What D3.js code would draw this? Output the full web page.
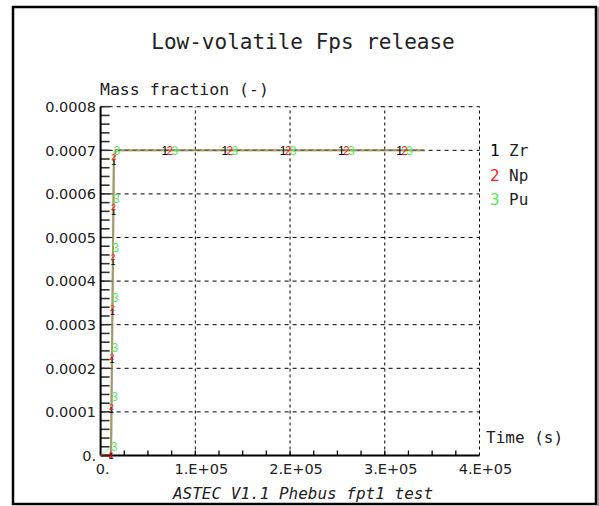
<!DOCTYPE html>
<html>
<head>
<meta charset="utf-8">
<script src="https://cdn.jsdelivr.net/npm/d3@7"></script>
<style>
  body { margin: 0; background: #fff; }
  svg { display: block; }
</style>
</head>
<body>
<svg width="599" height="506"></svg>
<script>
// time (s) and mass fractions
var time = [0, 11000, 11500, 12000, 12500, 13000, 13500, 14000, 16000, 73000, 136500, 198000, 259500, 321000, 342000];
var zr = [0, 0, 0.000104, 0.000219, 0.000329, 0.000444, 0.000558, 0.000673, 0.0007, 0.0007, 0.0007, 0.0007, 0.0007, 0.0007, 0.0007];
var np = [0, 0.000002, 0.000111, 0.000226, 0.00034, 0.000455, 0.00057, 0.000685, 0.0007, 0.0007, 0.0007, 0.0007, 0.0007, 0.0007, 0.0007];
var pu = [0, 0.00002, 0.000134, 0.000247, 0.000361, 0.000476, 0.00059, 0.0007, 0.0007, 0.0007, 0.0007, 0.0007, 0.0007, 0.0007, 0.0007];
var markerIdx = [1, 2, 3, 4, 5, 6, 7, 9, 10, 11, 12, 13];
var names = ["Zr", "Np", "Pu"];
var xTicks = [0, 100000, 200000, 300000, 400000];
var yTicks = [0, 0.0001, 0.0002, 0.0003, 0.0004, 0.0005, 0.0006, 0.0007, 0.0008];

var series = [
  {key: "1", name: names[0], values: zr, color: "#000000", opacity: 0.37, dx: -5, rx: 0},
  {key: "2", name: names[1], values: np, color: "#ff2020", opacity: 0.37, dx: 0, rx: 0},
  {key: "3", name: names[2], values: pu, color: "#55ee55", opacity: 0.34, dx: 5, rx: 3}
];

var svg = d3.select("svg");
var mono = "'DejaVu Sans Mono', monospace";
var ink = "#222";

var x = d3.scaleLinear().domain([0, 400000]).range([100.6, 479.5]);
var y = d3.scaleLinear().domain([0, 0.0008]).range([455.5, 106.7]);

// outer frame
svg.append("rect")
    .attr("x", 13).attr("y", 7).attr("width", 583).attr("height", 497)
    .attr("fill", "none").attr("stroke", "#000").attr("stroke-width", 2.5);
svg.append("line")
    .attr("x1", 598).attr("x2", 598).attr("y1", 7).attr("y2", 506)
    .attr("stroke", "#777").attr("stroke-width", 1.5);

// title
svg.append("text")
    .attr("x", 303).attr("y", 49)
    .attr("text-anchor", "middle")
    .style("font-family", mono).style("font-size", "21px")
    .attr("fill", ink)
    .text("Low-volatile Fps release");

// grid
svg.selectAll(".hgrid")
  .data(yTicks.filter(function(d) { return d > 0; }))
  .enter().append("line")
    .attr("class", "hgrid")
    .attr("x1", x(0)).attr("x2", x(400000))
    .attr("y1", function(d) { return y(d); })
    .attr("y2", function(d) { return y(d); })
    .attr("stroke", "#000").attr("stroke-width", 1)
    .attr("stroke-dasharray", "4,4");

svg.selectAll(".vgrid")
  .data(xTicks.filter(function(d) { return d > 0; }))
  .enter().append("line")
    .attr("class", "vgrid")
    .attr("y1", y(0)).attr("y2", y(0.0008))
    .attr("x1", function(d) { return x(d); })
    .attr("x2", function(d) { return x(d); })
    .attr("stroke", "#000").attr("stroke-width", 1)
    .attr("stroke-dasharray", "3,3");

// minor ticks
var yMinor = d3.range(0, 0.00080001, 0.00002);
svg.selectAll(".ymin")
  .data(yMinor)
  .enter().append("line")
    .attr("x1", x(0)).attr("x2", x(0) + 9)
    .attr("y1", function(d) { return y(d); })
    .attr("y2", function(d) { return y(d); })
    .attr("stroke", "#333").attr("stroke-width", 1.6);

var xMinor = d3.range(25000, 400000, 25000);
svg.selectAll(".xmin")
  .data(xMinor)
  .enter().append("line")
    .attr("y1", y(0)).attr("y2", y(0) - 5)
    .attr("x1", function(d) { return x(d); })
    .attr("x2", function(d) { return x(d); })
    .attr("stroke", "#000").attr("stroke-width", 1.3);

// axes lines
svg.append("line")
    .attr("x1", x(0)).attr("x2", x(0)).attr("y1", y(0)).attr("y2", y(0.0008))
    .attr("stroke", "#000").attr("stroke-width", 2);
svg.append("line")
    .attr("x1", x(0)).attr("x2", x(400000)).attr("y1", y(0)).attr("y2", y(0))
    .attr("stroke", "#000").attr("stroke-width", 2);

// tick labels
svg.selectAll(".ylab")
  .data(yTicks)
  .enter().append("text")
    .attr("x", 96)
    .attr("y", function(d) { return y(d); })
    .attr("dy", "0.36em")
    .attr("text-anchor", "end")
    .style("font-family", "'DejaVu Sans', sans-serif").style("font-size", "14.5px")
    .attr("fill", ink)
    .text(function(d) { return d === 0 ? "0." : d.toFixed(4); });

svg.selectAll(".xlab")
  .data(xTicks)
  .enter().append("text")
    .attr("x", function(d) { return x(d) + (d === 0 ? 2 : 6); })
    .attr("y", 474)
    .attr("text-anchor", "middle")
    .style("font-family", "'DejaVu Sans', sans-serif").style("font-size", "14.5px")
    .attr("fill", ink)
    .text(function(d) { return d === 0 ? "0." : (d / 100000) + ".E+05"; });

// axis titles
svg.append("text")
    .attr("x", 100).attr("y", 95)
    .style("font-family", mono).style("font-size", "16.5px")
    .attr("fill", ink)
    .text("Mass fraction (-)");
svg.append("text")
    .attr("x", 486).attr("y", 443)
    .style("font-family", mono).style("font-size", "16px")
    .attr("fill", ink)
    .text("Time (s)");
svg.append("text")
    .attr("x", 303).attr("y", 499)
    .attr("text-anchor", "middle")
    .style("font-family", mono).style("font-size", "16px").style("font-style", "italic")
    .attr("fill", ink)
    .text("ASTEC V1.1 Phebus fpt1 test");

// curves
var line = d3.line()
    .x(function(d, i) { return x(time[i]); })
    .y(function(d) { return y(d); });

svg.selectAll(".curve")
  .data(series)
  .enter().append("path")
    .attr("class", "curve")
    .attr("d", function(s) { return line(s.values); })
    .attr("fill", "none")
    .attr("stroke", function(s) { return s.color; })
    .attr("stroke-opacity", function(s) { return s.opacity; })
    .attr("stroke-width", 2);

// digit markers: side by side on the plateau, on the curve while rising
series.forEach(function(s) {
  svg.selectAll(".mk" + s.key)
    .data(markerIdx)
    .enter().append("text")
      .attr("x", function(i) { return x(time[i]) + (i > 8 ? s.dx : s.rx); })
      .attr("y", function(i) { return y(s.values[i]); })
      .attr("dy", "0.36em")
      .attr("text-anchor", "middle")
      .style("font-family", "'Liberation Sans', sans-serif")
      .style("font-size", function(i) { return i > 8 || s.key === "3" ? "12px" : "9px"; })
      .attr("fill", s.color)
      .text(s.key);
});

// legend
var leg = svg.selectAll(".leg")
  .data(series)
  .enter().append("g")
    .attr("transform", function(s, i) { return "translate(490," + (156 + i * 24.5) + ")"; });
leg.append("text")
    .style("font-family", mono).style("font-size", "16px")
    .attr("fill", function(s) { return s.color; })
    .text(function(s) { return s.key; });
leg.append("text")
    .attr("x", 19)
    .style("font-family", mono).style("font-size", "16px")
    .attr("fill", ink)
    .text(function(s) { return s.name; });
</script>
</body>
</html>
